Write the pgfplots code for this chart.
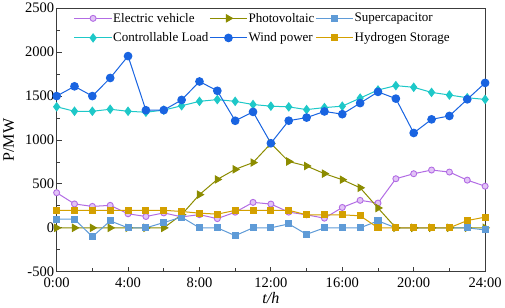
\documentclass[border=0pt]{standalone}
\usepackage{pgfplots}
\pgfplotsset{compat=1.18}
\usepackage{fontspec}
\setmainfont{Liberation Serif}
\definecolor{evc}{RGB}{178,108,228}
\definecolor{evf}{RGB}{226,196,246}
\definecolor{pvc}{RGB}{140,140,0}
\definecolor{scc}{RGB}{95,155,215}
\definecolor{clc}{RGB}{30,200,200}
\definecolor{wpc}{RGB}{25,100,225}
\definecolor{hsc}{RGB}{212,160,0}
\definecolor{axc}{RGB}{60,60,60}
\begin{document}
\begin{tikzpicture}
\begin{axis}[
  scale only axis,
  width=426bp, height=262bp,
  xmin=0, xmax=24, ymin=-500, ymax=2500,
  xtick={0,4,8,12,16,20,24},
  xticklabels={0:00,4:00,8:00,12:00,16:00,20:00,24:00},
  ytick={-500,0,500,1000,1500,2000,2500},
  minor x tick num=1, minor y tick num=1,
  tick pos=left, tick align=inside,
  major tick length=5bp, minor tick length=3.5bp,
  axis line style={axc, line width=1.2bp},
  every tick/.style={axc, line width=0.9bp},
  tick label style={font=\fontsize{14.5}{16}\selectfont},
  yticklabel style={xshift=1bp},
  xticklabel style={yshift=-3bp},
  /pgf/number format/assume math mode=true,
  yticklabel style={/pgf/number format/1000 sep={}},
  xlabel={\textit{t/h}}, ylabel={P/MW},
  label style={font=\fontsize{16}{18}\selectfont},
  xlabel style={yshift=2.5bp},
  ylabel style={yshift=4bp},
  legend style={at={(0.04,0.99)}, anchor=north west, draw=none, fill=none,
    font=\fontsize{13}{15}\selectfont, row sep=5bp, inner sep=0pt,
    nodes={inner xsep=1pt},
    /tikz/every even column/.append style={column sep=0bp}},
  legend columns=3,
  legend cell align=left,
  legend image code/.code={\draw[#1] (0bp,0bp) -- (37bp,0bp); \draw[#1, mark repeat=1] plot coordinates {(18.5bp,0bp)};},
  every axis plot/.append style={line width=1bp},
]
\addplot[color=evc, mark=*, mark size=3bp, mark options={fill=evf, draw=evc, line width=0.9bp}] coordinates {
(0,400)(1,272)(2,244)(3,256)(4,160)(5,129)(6,170)(7,125)(8,150)(9,105)(10,178)(11,290)(12,271)(13,179)(14,148)(15,110)(16,232)(17,313)(18,282)(19,559)(20,616)(21,658)(22,635)(23,543)(24,474)};
\addlegendentry{Electric vehicle}
\addplot[color=pvc, mark=triangle*, mark size=4bp, mark options={rotate=-90, fill=pvc}] coordinates {
(0,0)(1,0)(2,0)(3,0)(4,0)(5,0)(6,0)(7,150)(8,378)(9,551)(10,666)(11,743)(12,960)(13,755)(14,704)(15,617)(16,548)(17,456)(18,226)(19,0)(20,0)(21,0)(22,0)(23,0)(24,0)};
\addlegendentry{Photovoltaic}
\addplot[color=scc, mark=square*, mark size=3bp, mark options={fill=scc}] coordinates {
(0,99)(1,99)(2,-101)(3,79)(4,0)(5,0)(6,60)(7,122)(8,0)(9,0)(10,-89)(11,0)(12,0)(13,45)(14,-74)(15,0)(16,0)(17,0)(18,79)(19,0)(20,0)(21,0)(22,0)(23,0)(24,-24)};
\addlegendentry{Supercapacitor}
\addplot[color=clc, mark=diamond*, mark size=4bp, mark options={fill=clc}] coordinates {
(0,1378)(1,1327)(2,1327)(3,1350)(4,1327)(5,1316)(6,1340)(7,1390)(8,1440)(9,1460)(10,1440)(11,1404)(12,1385)(13,1377)(14,1346)(15,1369)(16,1385)(17,1477)(18,1569)(19,1619)(20,1600)(21,1542)(22,1512)(23,1481)(24,1462)};
\addlegendentry{Controllable Load}
\addplot[color=wpc, mark=*, mark size=3.8bp, mark options={fill=wpc}] coordinates {
(0,1500)(1,1611)(2,1500)(3,1706)(4,1955)(5,1339)(6,1340)(7,1456)(8,1666)(9,1560)(10,1219)(11,1320)(12,963)(13,1220)(14,1255)(15,1325)(16,1294)(17,1420)(18,1548)(19,1471)(20,1080)(21,1235)(22,1274)(23,1463)(24,1650)};
\addlegendentry{Wind power}
\addplot[color=hsc, mark=square*, mark size=3bp, mark options={fill=hsc}] coordinates {
(0,200)(1,200)(2,200)(3,200)(4,200)(5,200)(6,200)(7,186)(8,167)(9,156)(10,198)(11,200)(12,200)(13,200)(14,148)(15,148)(16,148)(17,137)(18,0)(19,0)(20,0)(21,0)(22,0)(23,83)(24,122)};
\addlegendentry{Hydrogen Storage}
\end{axis}
\end{tikzpicture}
\end{document}
